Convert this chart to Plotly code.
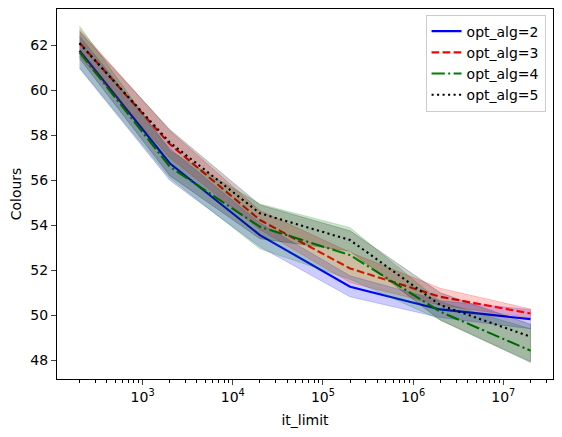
import plotly.graph_objects as go

# it_limit values (log x axis)
it_limit = [200, 2000, 20000, 200000, 2000000, 20000000]

# Mean colours per opt_alg, with band lower/upper edges
alg2_mean = [61.75, 56.75, 53.56, 51.27, 50.26, 49.83]
alg2_lo = [60.96, 56.00, 53.04, 50.82, 49.90, 49.40]
alg2_hi = [62.40, 57.40, 54.10, 51.75, 50.65, 50.25]

alg3_mean = [62.10, 57.60, 54.23, 52.08, 50.82, 50.08]
alg3_lo = [61.50, 57.00, 53.80, 51.45, 50.45, 49.88]
alg3_hi = [62.70, 58.20, 54.65, 52.80, 51.20, 50.28]

alg4_mean = [61.68, 56.60, 53.93, 52.67, 50.16, 48.43]
alg4_lo = [61.00, 56.10, 52.95, 51.60, 49.80, 47.95]
alg4_hi = [62.84, 57.30, 54.94, 53.89, 50.60, 49.40]

alg5_mean = [62.07, 57.68, 54.53, 53.34, 50.45, 49.05]
alg5_lo = [61.40, 56.20, 53.40, 52.85, 49.78, 47.91]
alg5_hi = [62.60, 58.25, 54.90, 53.75, 51.00, 49.60]

series = [
    ('opt_alg=2', alg2_mean, alg2_lo, alg2_hi, 'rgb(0,0,255)', 'rgba(0,0,255,0.2)', 'solid'),
    ('opt_alg=3', alg3_mean, alg3_lo, alg3_hi, 'rgb(255,0,0)', 'rgba(255,0,0,0.2)', '7.7px,3.3px'),
    ('opt_alg=4', alg4_mean, alg4_lo, alg4_hi, 'rgb(0,128,0)', 'rgba(0,128,0,0.2)',
     '13.3px,3.3px,2.1px,3.3px'),
    ('opt_alg=5', alg5_mean, alg5_lo, alg5_hi, 'rgb(0,0,0)', 'rgba(0,0,0,0.2)', '2.1px,3.4px'),
]

FONT = 'DejaVu Sans, sans-serif'

fig = go.Figure()

for name, mean, lo, hi, color, fill, dash in series:
    # Shaded band
    fig.add_trace(go.Scatter(
        x=it_limit + it_limit[::-1],
        y=hi + lo[::-1],
        fill='toself',
        fillcolor=fill,
        line=dict(color=fill, width=1),
        mode='lines',
        hoverinfo='skip',
        showlegend=False,
    ))
    # Mean line
    fig.add_trace(go.Scatter(
        x=it_limit,
        y=mean,
        mode='lines',
        name=name,
        line=dict(color=color, width=2.1, dash=dash),
    ))

# Minor ticks for log axis
minor_vals = [m * 10 ** k for k in range(2, 8) for m in range(2, 10)]
major_vals = [1e3, 1e4, 1e5, 1e6, 1e7]

# The page body has an 8px margin, so the figure is 8px smaller
fig.update_layout(
    width=554,
    height=429,
    margin=dict(l=49, r=9, t=1, b=58, autoexpand=False),
    paper_bgcolor='white',
    plot_bgcolor='white',
    font=dict(family=FONT, size=14, color='black'),
    legend=dict(
        xanchor='right',
        x=0.985,
        yanchor='top',
        y=0.985,
        bgcolor='rgba(255,255,255,0.8)',
        bordercolor='rgb(204,204,204)',
        borderwidth=1,
        font=dict(size=14),
        tracegroupgap=0,
    ),
    xaxis=dict(
        type='log',
        range=[2.051, 7.551],
        automargin=False,
        title=dict(text='it_limit', font=dict(size=14), standoff=11),
        tickvals=major_vals,
        ticktext=['10<sup>%d</sup>' % k for k in range(3, 8)],
        ticks='outside',
        ticklen=5,
        tickwidth=1.1,
        showline=True,
        linecolor='black',
        linewidth=1.1,
        mirror=True,
        showgrid=False,
        zeroline=False,
        minor=dict(
            tickvals=minor_vals,
            ticks='outside',
            ticklen=3,
            tickwidth=0.8,
            tickcolor='black',
            showgrid=False,
        ),
    ),
    yaxis=dict(
        range=[47.17, 63.6],
        automargin=False,
        title=dict(text='Colours', font=dict(size=14), standoff=6),
        tickmode='array',
        tickvals=list(range(48, 63, 2)),
        ticks='outside',
        ticklen=5,
        tickwidth=1.1,
        showline=True,
        linecolor='black',
        linewidth=1.1,
        mirror=True,
        showgrid=False,
        zeroline=False,
    ),
)

fig.write_html('out.html')
